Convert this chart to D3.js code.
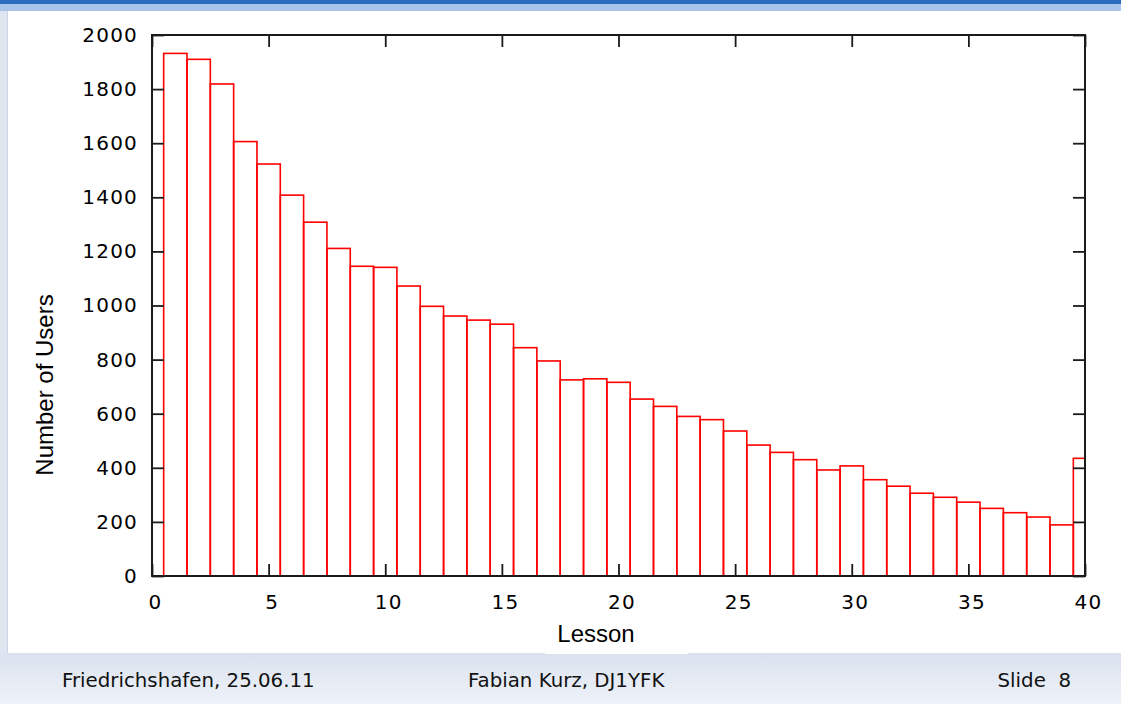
<!DOCTYPE html>
<html lang="en">
<head>
    <meta charset="UTF-8">
    <title>Users per Lesson</title>
    <script src="https://d3js.org/d3.v7.min.js"></script>
    <style>
        body { margin: 0; background: #fff; }
        svg { display: block; }
        .tick-label text { font-family: "DejaVu Sans", sans-serif; font-size: 20px; letter-spacing: 1.2px; fill: #000; }
        .footer text { font-family: "DejaVu Sans", sans-serif; font-size: 19.8px; fill: #111; white-space: pre; }
    </style>
</head>
<body>
    <div id="chart"></div>
    <script>
        // lessons 1..40 and number of users who reached each one
        const lessons = d3.range(1, 41);
        const users = [1932, 1910, 1819, 1606, 1523, 1408, 1308, 1211, 1145, 1141,
                       1072, 997, 961, 946, 931, 844, 795, 725, 729, 716,
                       654, 627, 590, 578, 536, 484, 457, 430, 392, 407,
                       356, 332, 306, 291, 273, 250, 234, 218, 189, 435];
        const x_ticks = [0, 5, 10, 15, 20, 25, 30, 35, 40];
        const y_ticks = [0, 200, 400, 600, 800, 1000, 1200, 1400, 1600, 1800, 2000];
        const footer_left = "Friedrichshafen, 25.06.11";
        const footer_mid = "Fabian Kurz, DJ1YFK";
        const footer_right = "Slide  8";

        const W = 1121, H = 704;
        const plot_left = 152, plot_right = 1085, plot_top = 35, plot_bottom = 576;

        const svg = d3.select("#chart")
            .append("svg")
            .attr("width", W)
            .attr("height", H);

        // slide background
        svg.append("rect").attr("x", 0).attr("y", 0).attr("width", W).attr("height", H).attr("fill", "#dfe6f0");
        svg.append("rect").attr("x", 8).attr("y", 11).attr("width", W - 8).attr("height", 642).attr("fill", "#fff");
        svg.append("line").attr("x1", 7.5).attr("x2", 7.5).attr("y1", 11).attr("y2", 653).attr("stroke", "#c9d6e8");
        svg.append("rect").attr("x", 0).attr("y", 0).attr("width", W).attr("height", 4).attr("fill", "#2b6cbf");
        svg.append("rect").attr("x", 0).attr("y", 4).attr("width", W).attr("height", 7).attr("fill", "#a9c6ea");

        const grad = svg.append("defs").append("linearGradient")
            .attr("id", "foot").attr("x1", 0).attr("x2", 0).attr("y1", 0).attr("y2", 1);
        grad.append("stop").attr("offset", "0%").attr("stop-color", "#dbe2ee");
        grad.append("stop").attr("offset", "100%").attr("stop-color", "#eef2f9");
        svg.append("rect").attr("x", 0).attr("y", 653).attr("width", W).attr("height", 51).attr("fill", "url(#foot)");
        svg.append("rect").attr("x", 545).attr("y", 650).attr("width", 143).attr("height", 4).attr("fill", "#fff");

        const x = d3.scaleLinear().domain([0, 40]).range([plot_left, plot_right]);
        const y = d3.scaleLinear().domain([0, 2000]).range([plot_bottom, plot_top]);

        svg.append("clipPath").attr("id", "plot")
            .append("rect").attr("x", plot_left).attr("y", plot_top)
            .attr("width", plot_right - plot_left).attr("height", plot_bottom - plot_top);

        // bars
        svg.append("g")
            .attr("clip-path", "url(#plot)")
            .selectAll("rect")
            .data(lessons)
            .enter()
            .append("rect")
            .attr("x", d => x(d - 0.5))
            .attr("y", (d, i) => y(users[i]))
            .attr("width", d => x(d + 0.5) - x(d - 0.5))
            .attr("height", (d, i) => y(0) - y(users[i]))
            .attr("fill", "none")
            .attr("stroke", "#ff0000")
            .attr("stroke-width", 1.6);

        // axes, ticks pointing inwards
        const tick_len = 12;
        const style_axis = g => {
            g.select(".domain").remove();
            g.selectAll(".tick line").attr("stroke", "#1a1a1a").attr("stroke-width", 1.8);
            g.attr("class", "tick-label").attr("font-family", null).attr("font-size", null);
        };

        svg.append("g")
            .attr("transform", `translate(0, ${plot_bottom})`)
            .call(d3.axisBottom(x).tickValues(x_ticks).tickSizeInner(-tick_len).tickSizeOuter(0)
                .tickPadding(19).tickFormat(d3.format("d")))
            .call(style_axis)
            .selectAll(".tick text").attr("dx", 3);

        svg.append("g")
            .attr("transform", `translate(0, ${plot_top})`)
            .call(d3.axisTop(x).tickValues(x_ticks).tickSizeInner(-tick_len).tickSizeOuter(0).tickFormat(""))
            .call(style_axis);

        svg.append("g")
            .attr("transform", `translate(${plot_left}, 0)`)
            .call(d3.axisLeft(y).tickValues(y_ticks).tickSizeInner(-tick_len).tickSizeOuter(0)
                .tickPadding(14).tickFormat(d3.format("d")))
            .call(style_axis);

        svg.append("g")
            .attr("transform", `translate(${plot_right}, 0)`)
            .call(d3.axisRight(y).tickValues(y_ticks).tickSizeInner(-tick_len).tickSizeOuter(0).tickFormat(""))
            .call(style_axis);

        // frame
        svg.append("rect")
            .attr("x", plot_left).attr("y", plot_top)
            .attr("width", plot_right - plot_left).attr("height", plot_bottom - plot_top)
            .attr("fill", "none")
            .attr("stroke", "#1a1a1a")
            .attr("stroke-width", 2);

        // axis titles
        svg.append("text")
            .attr("x", 596)
            .attr("y", 642)
            .attr("text-anchor", "middle")
            .attr("font-family", "Liberation Sans, Arial, sans-serif")
            .attr("font-size", "24px")
            .attr("fill", "#000")
            .text("Lesson");

        svg.append("text")
            .attr("transform", "translate(53, 385) rotate(-90)")
            .attr("text-anchor", "middle")
            .attr("font-family", "Liberation Sans, Arial, sans-serif")
            .attr("font-size", "24px")
            .attr("fill", "#000")
            .text("Number of Users");

        // footer
        const footer = svg.append("g").attr("class", "footer");
        footer.append("text").attr("x", 62).attr("y", 687).text(footer_left);
        footer.append("text").attr("x", 468).attr("y", 687).text(footer_mid);
        footer.append("text").attr("x", 1071).attr("y", 687).attr("text-anchor", "end").text(footer_right);
    </script>
</body>
</html>
